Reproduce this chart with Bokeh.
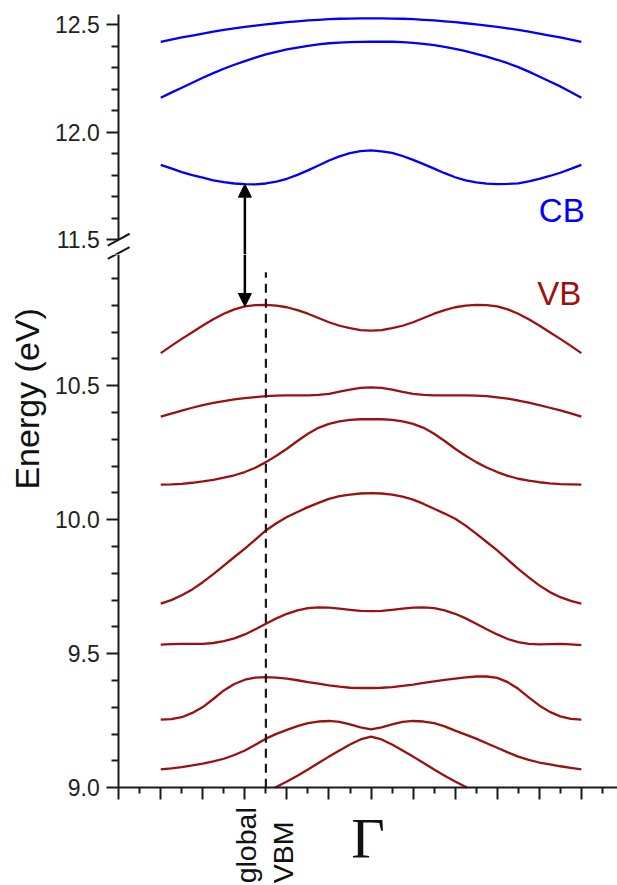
from math import pi
from bokeh.plotting import figure
from bokeh.layouts import column
from bokeh.models import (Range1d, LinearAxis, FixedTicker, PrintfTickFormatter,
                          Label, Arrow, NormalHead)
from bokeh.embed import file_html
from bokeh.resources import INLINE

# ---------------- data ----------------
# wave-vector positions (Gamma at 0), one point every quarter tick
K = [-5.0, -4.75, -4.5, -4.25, -4.0, -3.75, -3.5, -3.25, -3.0, -2.75, -2.5, -2.25,
     -2.0, -1.75, -1.5, -1.25, -1.0, -0.75, -0.5, -0.25, 0.0,
     0.25, 0.5, 0.75, 1.0, 1.25, 1.5, 1.75, 2.0, 2.25, 2.5, 2.75, 3.0, 3.25,
     3.5, 3.75, 4.0, 4.25, 4.5, 4.75, 5.0]

# conduction bands (eV)
cb3 = [12.420, 12.431, 12.441, 12.450, 12.459, 12.468, 12.476, 12.483, 12.490, 12.496,
       12.502, 12.507, 12.512, 12.516, 12.520, 12.523, 12.526, 12.528, 12.529, 12.530,
       12.530,
       12.530, 12.529, 12.528, 12.526, 12.523, 12.520, 12.516, 12.512, 12.507, 12.502,
       12.496, 12.490, 12.483, 12.476, 12.468, 12.459, 12.450, 12.441, 12.431, 12.420]
cb2 = [12.160, 12.184, 12.207, 12.230, 12.253, 12.275, 12.295, 12.314, 12.331, 12.347,
       12.362, 12.374, 12.385, 12.394, 12.402, 12.409, 12.414, 12.417, 12.419, 12.420,
       12.421,
       12.421, 12.421, 12.419, 12.416, 12.411, 12.405, 12.397, 12.388, 12.377, 12.365,
       12.352, 12.337, 12.321, 12.303, 12.282, 12.259, 12.236, 12.213, 12.187, 12.160]
cb1 = [11.848, 11.831, 11.814, 11.800, 11.788, 11.776, 11.767, 11.761, 11.758, 11.757,
       11.761, 11.770, 11.783, 11.801, 11.822, 11.845, 11.868, 11.887, 11.902, 11.912,
       11.915,
       11.911, 11.904, 11.889, 11.871, 11.851, 11.830, 11.809, 11.790, 11.776, 11.766,
       11.760, 11.758, 11.759, 11.762, 11.771, 11.783, 11.796, 11.811, 11.829, 11.848]

# valence bands (eV)
vb1 = [10.622, 10.649, 10.675, 10.700, 10.725, 10.748, 10.769, 10.785, 10.796, 10.801,
       10.802, 10.799, 10.793, 10.782, 10.769, 10.753, 10.737, 10.724, 10.715, 10.708,
       10.706,
       10.708, 10.715, 10.724, 10.737, 10.753, 10.769, 10.782, 10.793, 10.799, 10.802,
       10.801, 10.796, 10.785, 10.769, 10.748, 10.725, 10.700, 10.675, 10.649, 10.622]
vb2 = [10.385, 10.396, 10.407, 10.418, 10.428, 10.436, 10.443, 10.449, 10.454, 10.458,
       10.461, 10.463, 10.464, 10.464, 10.464, 10.466, 10.470, 10.478, 10.486, 10.492,
       10.494,
       10.492, 10.486, 10.477, 10.470, 10.466, 10.464, 10.464, 10.464, 10.464, 10.463,
       10.461, 10.457, 10.452, 10.445, 10.437, 10.428, 10.418, 10.408, 10.397, 10.385]
vb3 = [10.131, 10.132, 10.134, 10.138, 10.143, 10.149, 10.157, 10.166, 10.178, 10.194,
       10.215, 10.239, 10.265, 10.294, 10.321, 10.343, 10.358, 10.367, 10.373, 10.375,
       10.375,
       10.375, 10.373, 10.367, 10.358, 10.343, 10.321, 10.294, 10.265, 10.239, 10.215,
       10.195, 10.178, 10.164, 10.153, 10.146, 10.140, 10.136, 10.133, 10.132, 10.131]
vb4 = [9.687, 9.700, 9.718, 9.740, 9.767, 9.797, 9.829, 9.861, 9.892, 9.926,
       9.960, 9.987, 10.010, 10.029, 10.047, 10.063, 10.078, 10.088, 10.094, 10.098,
       10.099,
       10.098, 10.094, 10.086, 10.075, 10.059, 10.041, 10.023, 10.004, 9.978, 9.948,
       9.917, 9.886, 9.851, 9.817, 9.785, 9.755, 9.730, 9.711, 9.697, 9.687]
vb5 = [9.534, 9.536, 9.537, 9.537, 9.537, 9.540, 9.547, 9.557, 9.572, 9.591,
       9.612, 9.632, 9.649, 9.662, 9.670, 9.673, 9.672, 9.668, 9.664, 9.660,
       9.659,
       9.660, 9.664, 9.668, 9.672, 9.673, 9.670, 9.662, 9.649, 9.632, 9.612,
       9.591, 9.572, 9.555, 9.543, 9.537, 9.535, 9.536, 9.537, 9.535, 9.532]
vb6 = [9.254, 9.256, 9.263, 9.279, 9.301, 9.331, 9.363, 9.387, 9.403, 9.411,
       9.413, 9.411, 9.407, 9.401, 9.394, 9.388, 9.382, 9.377, 9.373, 9.372,
       9.372,
       9.373, 9.375, 9.380, 9.385, 9.391, 9.397, 9.402, 9.407, 9.412, 9.415,
       9.415, 9.410, 9.394, 9.369, 9.337, 9.307, 9.283, 9.266, 9.257, 9.254]
vb7 = [9.068, 9.072, 9.077, 9.083, 9.090, 9.098, 9.108, 9.122, 9.139, 9.160,
       9.183, 9.201, 9.216, 9.230, 9.241, 9.247, 9.249, 9.246, 9.236, 9.225,
       9.218,
       9.225, 9.236, 9.246, 9.249, 9.247, 9.241, 9.229, 9.213, 9.198, 9.183,
       9.166, 9.149, 9.132, 9.116, 9.104, 9.094, 9.087, 9.080, 9.074, 9.068]
vb8_k = [-2.29, -2.0, -1.75, -1.5, -1.25, -1.0, -0.75, -0.5, -0.25, 0.0,
         0.25, 0.5, 0.75, 1.0, 1.25, 1.5, 1.75, 2.0, 2.29]
vb8 = [9.0, 9.023, 9.045, 9.068, 9.092, 9.116, 9.139, 9.161, 9.180, 9.191,
       9.180, 9.161, 9.139, 9.116, 9.092, 9.068, 9.045, 9.023, 9.0]

cb_bands = [cb1, cb2, cb3]
vb_bands = [vb1, vb2, vb3, vb4, vb5, vb6, vb7]

# gap arrow at k = -3, global VBM marker at k = -2.5
gap_k = -3.0
vbm_k = -2.5
vbm_line_top = 10.924

# ticks
upper_major = [11.5, 12.0, 12.5]
upper_minor = [11.6, 11.7, 11.8, 11.9, 12.1, 12.2, 12.3, 12.4]
lower_major = [9.0, 9.5, 10.0, 10.5]
lower_minor = [9.1, 9.2, 9.3, 9.4, 9.6, 9.7, 9.8, 9.9,
               10.1, 10.2, 10.3, 10.4, 10.6, 10.7, 10.8, 10.9]
k_major = [-6, -5, -4, -3, -2, -1, 0, 1, 2, 3, 4, 5, 6]
k_minor = [-5.5, -4.5, -3.5, -2.5, -1.5, -0.5, 0.5, 1.5, 2.5, 3.5, 4.5, 5.5]

# ---------------- styling ----------------
BLUE = "#0000ff"
RED = "#9b1111"
AX = "#1a1a1a"
SANS = "Liberation Sans"
W = 617
H_UP = 254
H_LO = 631
XR = (-8.81, 5.86)
UP_YR = (11.4304, 12.613)
LO_YR = (8.635, 10.9899)


def style_axis(ax, out_major=12, out_minor=7):
    ax.axis_line_width = 2
    ax.axis_line_color = AX
    ax.major_tick_line_width = 2
    ax.minor_tick_line_width = 2
    ax.major_tick_line_color = AX
    ax.minor_tick_line_color = AX
    ax.major_tick_out = out_major
    ax.major_tick_in = 0
    ax.minor_tick_out = out_minor
    ax.minor_tick_in = 0
    ax.major_label_text_font = SANS
    ax.major_label_text_font_size = "23px"
    ax.major_label_text_color = "#222222"
    ax.major_label_standoff = 7


def make_fig(h, yr):
    p = figure(width=W, height=h, x_range=Range1d(*XR), y_range=Range1d(*yr),
               output_backend="svg", toolbar_location=None,
               x_axis_location=None, y_axis_location=None,
               min_border=0, min_border_left=0, min_border_right=0,
               min_border_top=0, min_border_bottom=0,
               outline_line_color=None, background_fill_color="white",
               border_fill_color="white")
    p.xgrid.visible = False
    p.ygrid.visible = False
    return p


# ---------------- upper panel (conduction bands) ----------------
up = make_fig(H_UP, UP_YR)
for band in cb_bands:
    up.line(K, band, line_color=BLUE, line_width=2.3)

ya_up = LinearAxis(fixed_location=-6, bounds=(11.5, 12.55),
                   ticker=FixedTicker(ticks=upper_major, minor_ticks=upper_minor),
                   formatter=PrintfTickFormatter(format="%.1f"))
style_axis(ya_up)
up.add_layout(ya_up, "left")

# axis-break marks (the second one straddles the two panels)
up.segment(x0=[-6.26, -6.26], y0=[11.472, 11.4103], x1=[-5.74, -5.74], y1=[11.527, 11.4644],
           line_color=AX, line_width=2)

gi = K.index(gap_k)
up.add_layout(Arrow(end=NormalHead(size=13, fill_color="black", line_color="black", line_width=1),
                    start=None, x_start=gap_k, y_start=up.y_range.start,
                    x_end=gap_k, y_end=cb1[gi], line_color="black", line_width=2.5))

up.add_layout(Label(x=3.99, y=11.635, text="CB", text_color=BLUE, text_font=SANS,
                    text_font_size="33px", text_align="left", text_baseline="middle"))

# ---------------- lower panel (valence bands) ----------------
lo = make_fig(H_LO, LO_YR)
for band in vb_bands:
    lo.line(K, band, line_color=RED, line_width=2.3)
lo.line(vb8_k, vb8, line_color=RED, line_width=2.3)

ya_lo = LinearAxis(fixed_location=-6, bounds=(9.0, 11.0),
                   ticker=FixedTicker(ticks=lower_major, minor_ticks=lower_minor),
                   formatter=PrintfTickFormatter(format="%.1f"))
style_axis(ya_lo)
lo.add_layout(ya_lo, "left")

xa = LinearAxis(fixed_location=9.0, bounds=(-6, 6),
                ticker=FixedTicker(ticks=k_major, minor_ticks=k_minor))
style_axis(xa, out_major=12, out_minor=6)
xa.major_label_text_color = None
lo.add_layout(xa, "below")

lo.segment(x0=[-6.26], y0=[10.974], x1=[-5.74], y1=[11.017], line_color=AX, line_width=2)

# global VBM dashed marker
lo.line([vbm_k, vbm_k], [lower_major[0], vbm_line_top], line_color="#1a1a1a",
        line_width=2.2, line_dash="9 6")

lo.add_layout(Arrow(end=NormalHead(size=13, fill_color="black", line_color="black", line_width=1),
                    start=None, x_start=gap_k, y_start=lo.y_range.end,
                    x_end=gap_k, y_end=vb1[gi], line_color="black", line_width=2.5))

lo.add_layout(Label(x=3.95, y=10.845, text="VB", text_color=RED, text_font=SANS,
                    text_font_size="33px", text_align="left", text_baseline="middle"))

lo.add_layout(Label(x=-8.19, y=10.451, text="Energy (eV)", angle=pi / 2,
                    text_font=SANS, text_font_size="34px", text_color="#111111",
                    text_align="center", text_baseline="middle"))

lo.add_layout(Label(x=-2.963, y=8.643, text="global", angle=pi / 2,
                    text_font=SANS, text_font_size="28.5px", text_color="#111111",
                    text_align="left", text_baseline="middle"))
lo.add_layout(Label(x=-2.105, y=8.643, text="VBM", angle=pi / 2,
                    text_font=SANS, text_font_size="28.5px", text_color="#111111",
                    text_align="left", text_baseline="middle"))

lo.add_layout(Label(x=-0.07, y=8.809, text="\u0393", text_font="Liberation Serif",
                    text_font_size="58px", text_color="#111111",
                    text_align="center", text_baseline="middle"))

layout = column(up, lo, spacing=0)
open("out.html", "w").write(file_html(layout, INLINE))
